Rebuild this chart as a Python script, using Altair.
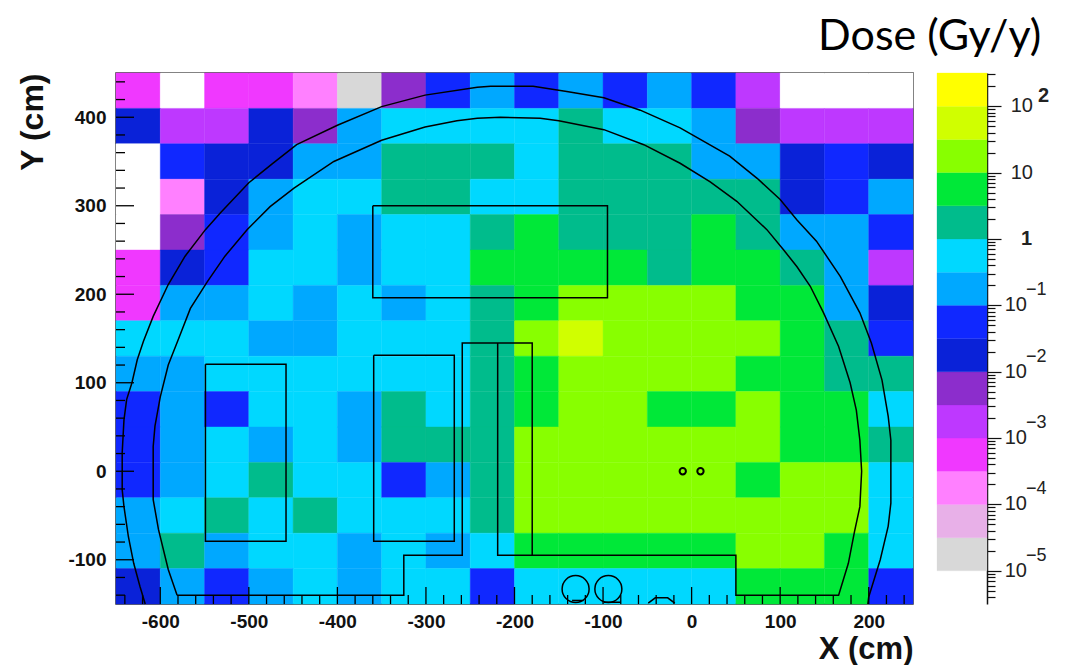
import altair as alt
import pandas as pd

# Dose levels (middle of each half-decade band, Gy/y)
W, G, L, P, M, V, U, D = 5e-6, 1.8e-5, 5.6e-5, 1.8e-4, 5.6e-4, 1.8e-3, 5.6e-3, 1.8e-2
B, A, C, T, N, Y, K, O = 5.6e-2, 0.18, 0.56, 1.8, 5.6, 18.0, 56.0, 178.0

x_edges = list(range(-650, 250, 50))
y_tops = [450, 410, 370, 330, 290, 250, 210, 170, 130, 90, 50, 10, -30, -70, -110]
rows = [
    [M, W, M, M, P, G, U, B, A, B, A, B, A, B, V, W, W, W],
    [D, V, V, D, U, A, C, C, C, C, T, C, C, A, U, V, V, V],
    [W, B, D, D, A, A, T, T, T, C, T, T, T, A, A, D, B, D],
    [W, P, D, A, C, C, T, T, C, C, T, T, T, T, T, D, B, A],
    [W, U, B, A, C, A, C, C, T, N, T, T, T, N, T, A, A, B],
    [M, D, B, C, C, A, C, C, N, N, N, N, T, N, N, T, A, V],
    [M, A, A, C, A, C, A, C, T, N, Y, Y, Y, Y, N, N, A, D],
    [C, C, C, A, A, C, C, C, T, Y, K, Y, Y, Y, Y, N, T, B],
    [A, A, C, C, C, C, C, C, T, N, Y, Y, Y, Y, N, N, T, T],
    [B, A, B, C, C, A, T, C, T, N, Y, Y, N, N, Y, N, N, C],
    [B, A, C, A, C, A, T, T, T, Y, Y, Y, Y, Y, Y, N, N, T],
    [B, A, C, T, C, C, B, A, T, Y, Y, Y, Y, Y, N, Y, Y, C],
    [A, C, T, C, T, C, C, C, T, Y, Y, Y, Y, Y, Y, Y, Y, C],
    [A, T, A, C, C, A, C, A, C, N, N, N, N, N, Y, Y, N, C],
    [D, A, B, A, C, A, C, C, B, C, C, C, C, C, N, N, N, B],
]

thresholds = [1e-5, 3.16e-5, 1e-4, 3.16e-4, 1e-3, 3.16e-3, 1e-2, 3.16e-2, 0.1, 0.316, 1, 3.16, 10, 31.6, 100]
palette = ["#ffffff", "#d8d8d8", "#e8b0e8", "#ff80ff", "#f038ff", "#be38ff", "#8c2dcc", "#0a22d8",
           "#1028ff", "#00a8ff", "#00d8ff", "#00bc8c", "#00e838", "#88ff00", "#d0ff00", "#ffff00"]
bar_low = [1e-5, 3.16e-5, 1e-4, 3.16e-4, 1e-3, 3.16e-3, 1e-2, 3.16e-2, 0.1, 0.316, 1, 3.16, 10, 31.6, 100]
bar_high = [3.16e-5, 1e-4, 3.16e-4, 1e-3, 3.16e-3, 1e-2, 3.16e-2, 0.1, 0.316, 1, 3.16, 10, 31.6, 100, 316]
bar_dose = [G, L, P, M, V, U, D, B, A, C, T, N, Y, K, O]

outer_x = [-617, -623, -630, -636, -641, -643, -643, -641, -638, -632, -626, -619, -608, -591, -572, -549, -532,
           -500, -474, -446, -400, -350, -301, -242, -227, -179, -141, -99, -58, -13, 43, 74, 100, 119, 141, 168,
           190, 203, 215, 222, 225, 225, 222, 213, 200, 199]
outer_y = [-150, -130, -104, -74, -40, -21, 21, 58, 81, 100, 126, 147, 175, 211, 243, 273, 292,
           326, 347, 369, 391, 412, 425, 434, 435, 435, 429, 422, 408, 388, 356, 331, 307, 284, 260, 220,
           179, 145, 103, 62, 35, -36, -62, -100, -142, -150]
inner_x = [-581, -591, -602, -608, -608, -606, -600, -591, -580, -566, -547, -527, -502, -476, -449, -404, -350,
           -301, -265, -242, -216, -171, -150, -99, -54, -13, 21, 51, 85, 104, 119, 134, 149, 166, 179, 186, 190,
           192, 190, 184, 177, 166, 50, 50, -180, -180, -259, -259, -325, -325, -581]
inner_y = [-140, -111, -66, -32, 28, 51, 84, 120, 148, 184, 214, 243, 273, 299, 320, 350, 374,
           389, 396, 399, 400, 399, 396, 386, 369, 348, 327, 305, 273, 250, 231, 209, 179, 141, 100, 69, 35,
           0, -40, -68, -104, -140, -140, -95, -95, 145, 145, -95, -95, -140, -140]
tube_x = [-219, -219, -180]
tube_y = [145, -95, -95]
box1_x = [-360, -95, -95, -360, -360]
box1_y = [300, 300, 196, 196, 300]
box2_x = [-549, -458, -458, -549, -549]
box2_y = [121, 121, -79, -79, 121]
box3_x = [-359, -268, -268, -359, -359]
box3_y = [131, 131, -79, -79, 131]
arc_x = [-49, -41, -27, -19]
arc_y = [-149, -143, -143, -149]
cup1_x = [-135, -122]
cup1_y = [-146, -146]
cup2_x = [-99, -80]
cup2_y = [-148, -148]
pipes_x = [-131, -94]
pipes_y = [-133, -133]
beams_x = [-10, 10]
beams_y = [0, 0]

x_major = [-600, -500, -400, -300, -200, -100, 0, 100, 200]
y_major = [-100, 0, 100, 200, 300, 400]
x_minor = [v for v in range(-640, 250, 20) if v not in x_major]
y_minor = [v for v in range(-140, 450, 20) if v not in y_major]

W_MAIN, H_MAIN = 797, 531

cells = pd.DataFrame(
    [{"x": x, "x2": x + 50, "y": top, "y2": top - 40, "dose": d}
     for top, row in zip(y_tops, rows) for x, d in zip(x_edges, row)]
)

x_scale = alt.Scale(domain=[-650, 250], nice=False, zero=False)
y_scale = alt.Scale(domain=[-150, 450], nice=False, zero=False)
color_scale = alt.Scale(type="threshold", domain=thresholds, range=palette)

label_font = "Liberation Sans"
x_axis = alt.Axis(values=x_major, title="X (cm)", titleFontSize=31, titleFont=label_font, titleFontWeight="bold",
                  titleAnchor="end", titleColor="#111", titleY=54, titleBaseline="alphabetic",
                  labelFontSize=19, labelFont=label_font, labelFontWeight="bold", labelColor="#111",
                  labelPadding=8, ticks=False, domain=False, grid=False, labelFlush=False,
                  labelExpr="'' + datum.value")
y_axis = alt.Axis(values=y_major, title="Y (cm)", titleFontSize=32, titleFont=label_font, titleFontWeight="bold",
                  titleAnchor="end", titleColor="#111", titleX=-67,
                  labelFontSize=19, labelFont=label_font, labelFontWeight="bold", labelColor="#111",
                  labelPadding=10, ticks=False, domain=False, grid=False,
                  labelExpr="'' + datum.value")

heat = alt.Chart(cells).mark_rect(strokeWidth=0.4).encode(
    x=alt.X("x:Q", scale=x_scale, axis=x_axis),
    x2="x2:Q",
    y=alt.Y("y:Q", scale=y_scale, axis=y_axis),
    y2="y2:Q",
    color=alt.Color("dose:Q", scale=color_scale, legend=None),
    stroke=alt.Stroke("dose:Q", scale=color_scale, legend=None),
)


def path(xs, ys, width=1.5):
    df = pd.DataFrame({"x": xs, "y": ys, "i": range(len(xs))})
    return alt.Chart(df).mark_line(color="black", strokeWidth=width, interpolate="linear").encode(
        x=alt.X("x:Q", scale=x_scale),
        y=alt.Y("y:Q", scale=y_scale),
        order="i:Q",
    )


def xticks(vals, length):
    return alt.Chart(pd.DataFrame({"x": vals})).mark_rule(color="black", strokeWidth=1.3).encode(
        x=alt.X("x:Q", scale=x_scale), y=alt.value(H_MAIN), y2=alt.value(H_MAIN - length)
    )


def yticks(vals, length):
    return alt.Chart(pd.DataFrame({"y": vals})).mark_rule(color="black", strokeWidth=1.3).encode(
        y=alt.Y("y:Q", scale=y_scale), x=alt.value(0), x2=alt.value(length)
    )


pipes = alt.Chart(pd.DataFrame({"x": pipes_x, "y": pipes_y})).mark_point(
    shape="circle", size=729, filled=False, color="black", strokeWidth=1.5, opacity=1
).encode(x=alt.X("x:Q", scale=x_scale), y=alt.Y("y:Q", scale=y_scale))
beams = alt.Chart(pd.DataFrame({"x": beams_x, "y": beams_y})).mark_point(
    shape="circle", size=40, filled=False, color="black", strokeWidth=2, opacity=1
).encode(x=alt.X("x:Q", scale=x_scale), y=alt.Y("y:Q", scale=y_scale))

main = alt.layer(
    heat,
    path(outer_x, outer_y), path(inner_x, inner_y), path(tube_x, tube_y),
    path(box1_x, box1_y), path(box2_x, box2_y), path(box3_x, box3_y), path(arc_x, arc_y),
    path(cup1_x, cup1_y), path(cup2_x, cup2_y),
    pipes, beams,
    xticks(x_major, 17), xticks(x_minor, 9), yticks(y_major, 18), yticks(y_minor, 9),
).properties(width=W_MAIN, height=H_MAIN, view=alt.ViewConfig(stroke="#333", strokeWidth=1.5))

# Colour bar
bar_scale = alt.Scale(type="log", domain=[3.16e-6, 316], nice=False)
bar_ticks = []
for decade in [1e-6, 1e-5, 1e-4, 1e-3, 1e-2, 1e-1, 1, 10, 100]:
    for m in range(1, 10):
        v = round(m * decade, 8)
        if 3.16e-6 <= v <= 316:
            bar_ticks.append(v)

major_test = "abs(log(datum.value)/LN10 - round(log(datum.value)/LN10)) < 0.000001"
bar_axis = alt.Axis(
    orient="right", values=bar_ticks, title=None, labels=False, grid=False,
    domain=True, domainColor="#111", domainWidth=1.5, tickColor="#111", tickWidth=1.2,
    tickSize={"condition": {"test": major_test, "value": 14}, "value": 8},
)
bar_df = pd.DataFrame({"low": bar_low, "high": bar_high, "dose": bar_dose})
bar = alt.Chart(bar_df).mark_rect(strokeWidth=0.3).encode(
    x=alt.value(0), x2=alt.value(50),
    y=alt.Y("low:Q", scale=bar_scale, axis=bar_axis),
    y2="high:Q",
    color=alt.Color("dose:Q", scale=color_scale, legend=None),
    stroke=alt.Stroke("dose:Q", scale=color_scale, legend=None),
)


def bar_text(vals, texts, xpos, align, dy=0, bold=False, size=20):
    df = pd.DataFrame({"v": vals, "t": texts})
    return alt.Chart(df).mark_text(align=align, baseline="middle", dy=dy, font=label_font, fontSize=size,
                                   color="#222", fontWeight="bold" if bold else "normal").encode(
        y=alt.Y("v:Q", scale=bar_scale), x=alt.value(xpos), text="t:N"
    )


pos_vals = [100, 10]
neg_vals = [0.1, 0.01, 1e-3, 1e-4, 1e-5]
neg_exps = ["\u22121", "\u22122", "\u22123", "\u22124", "\u22125"]

colorbar = alt.layer(
    bar,
    bar_text(pos_vals, ["10", "10"], 96, "right"),
    bar_text([100], ["2"], 101, "left", dy=-10, bold=True),
    bar_text([1], ["1"], 95, "right", bold=True),
    bar_text(neg_vals, ["10"] * 5, 90, "right"),
    bar_text(neg_vals, neg_exps, 89, "left", dy=-15, size=18),
).properties(width=50, height=H_MAIN, view=alt.ViewConfig(strokeWidth=0, stroke=None))

chart = alt.hconcat(main, colorbar, spacing=22).properties(
    padding={"left": 7, "top": 8, "right": 0, "bottom": 0},
    title=alt.TitleParams("Dose (Gy/y)", anchor="end", font="Lato", fontSize=43, fontWeight="normal",
                          color="black", offset=13, dx=-8, frame="bounds"),
).resolve_scale(color="independent", stroke="independent", x="independent", y="independent")

chart.save("out.html", embed_options={"renderer": "svg", "actions": False})
